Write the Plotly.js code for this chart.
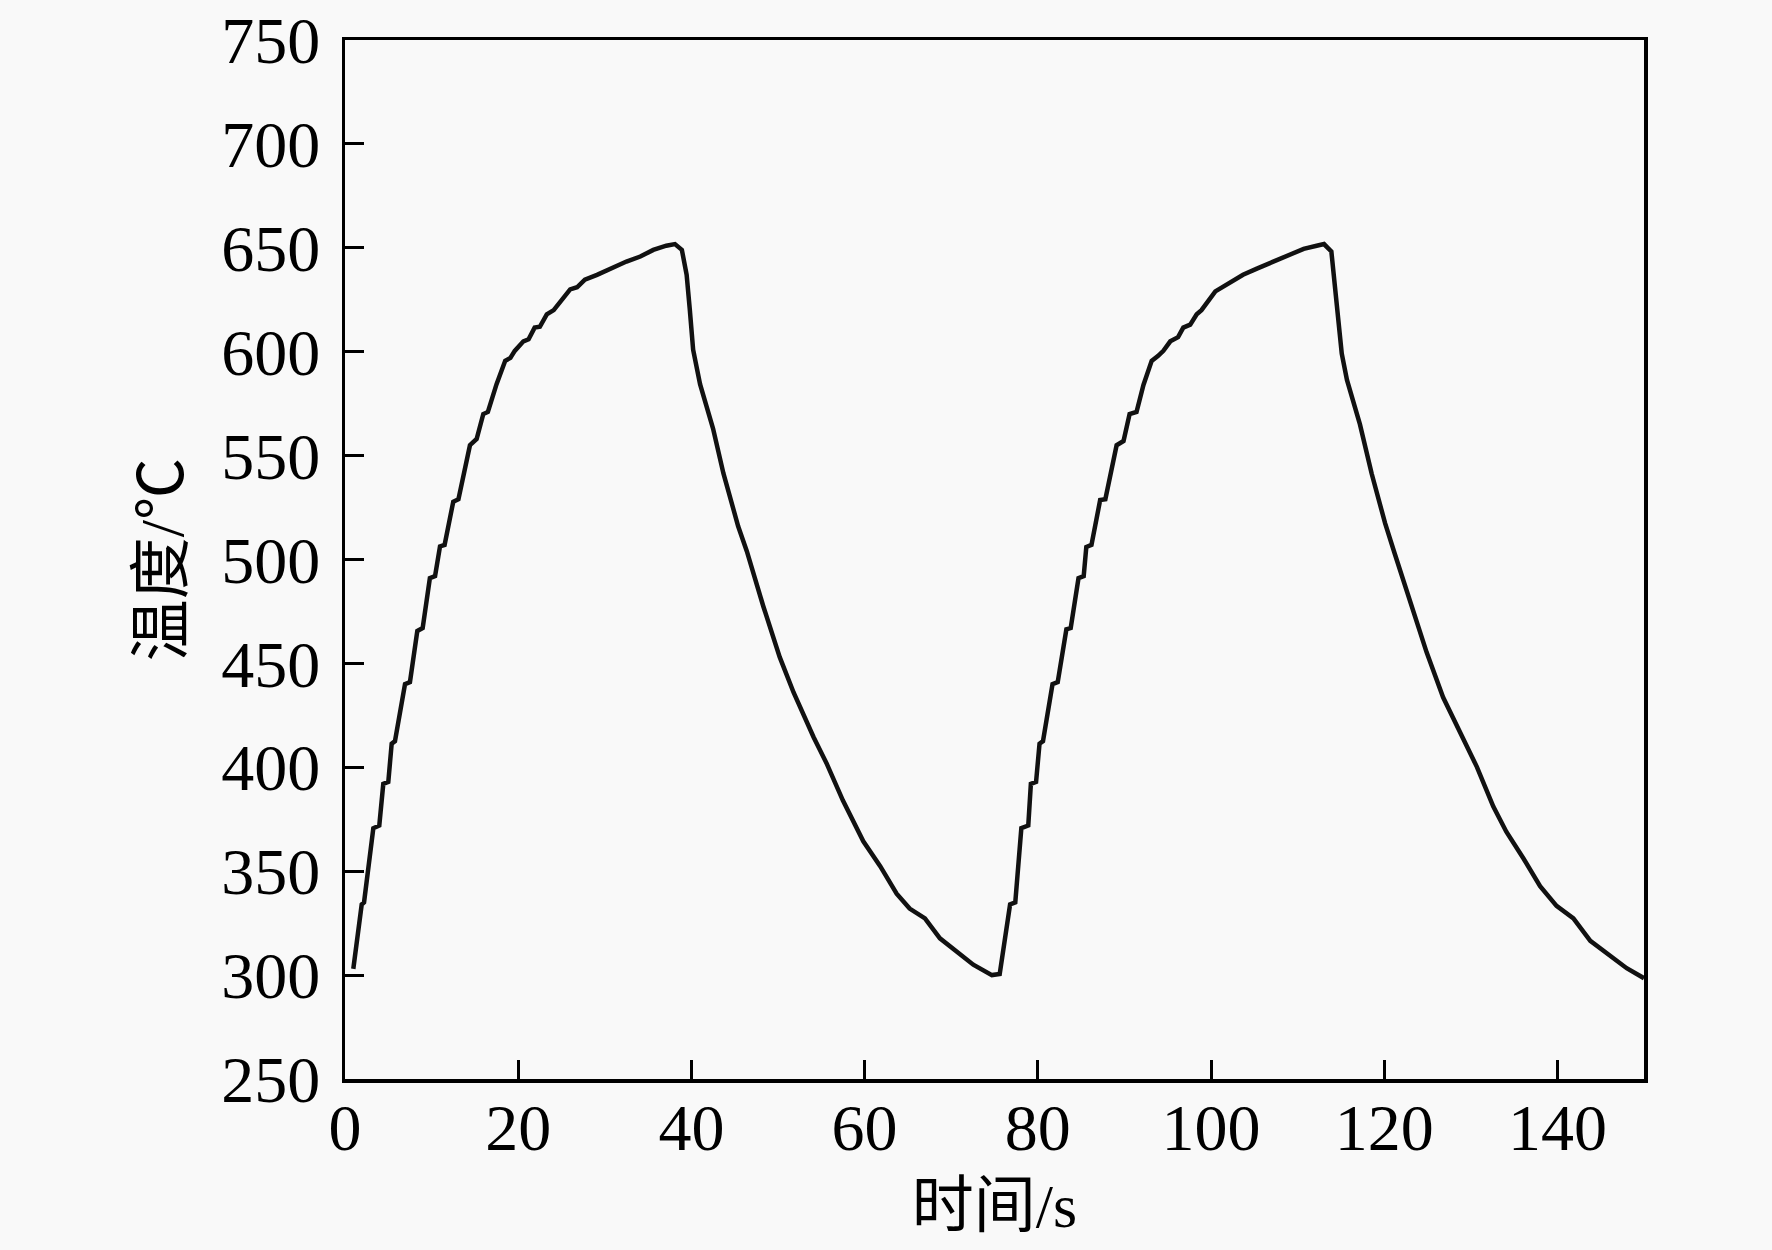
<!DOCTYPE html>
<html>
<head>
<meta charset="utf-8">
<script src="https://cdn.plot.ly/plotly-3.0.1.min.js"></script>
<style>
  html, body { margin: 0; padding: 0; background: #f9f9f9; }
  #chart { width: 1772px; height: 1250px; }
</style>
</head>
<body>
<div id="chart"></div>
<script>
// first heating / cooling cycle
var cycle1Time = [0.96, 1.93, 2.2, 3.27, 3.96, 4.42, 5.0, 5.39, 5.77, 6.93, 7.5, 8.35, 8.97, 9.8, 10.4,
    10.97, 11.5, 12.5, 13.1, 14.43, 15.2, 15.97, 16.5, 17.5, 18.5, 19.1, 19.6, 20.6, 21.2, 21.9, 22.5,
    23.3, 24.1, 26.0, 26.8, 27.7, 29.1, 30.6, 32.5, 34.1, 35.6, 37.1, 38.1, 38.9, 39.45, 39.8, 40.2,
    41.0, 42.5, 43.7, 45.4, 46.4, 48.3, 50.2, 51.8, 54.1, 55.6, 57.5, 59.85, 61.8, 63.7, 65.2, 66.97,
    68.7, 70.6, 72.55, 74.7, 75.6];
var cycle1Temp = [303, 334, 335, 370.7, 372, 392, 393, 411.4, 412.6, 440, 441, 465.6, 467, 491, 492,
    506.3, 507, 527.8, 529, 555, 558, 570, 571, 584.4, 595.6, 597, 600.4, 605, 606, 611.6, 612,
    618, 620, 630, 631, 634.7, 637, 640, 643.4, 645.8, 649, 651, 651.8, 649, 637, 621, 601,
    584.4, 563, 541.4, 516, 504, 477.5, 453, 436, 414.6, 402, 384, 364.4, 352.4, 339.2, 332, 327.3,
    317.7, 311.7, 305, 300, 300.5];

// second cycle
var cycle2Time = [76.8, 77.4, 78.1, 78.9, 79.2, 79.8, 80.2, 80.6, 81.7, 82.3, 83.3, 83.8, 84.7, 85.3,
    85.6, 86.2, 87.2, 87.8, 89.1, 89.9, 90.6, 91.4, 92.2, 93.15, 93.9, 94.5, 95.3, 96.2, 96.8, 97.6,
    98.35, 98.9, 100.5, 101.3, 102.6, 103.7, 105.3, 107.2, 108.9, 110.7, 112.2, 113.05, 113.9, 114.3,
    114.7, 115.1, 115.7, 117.2, 118.55, 120.1, 121.2, 123.0, 124.9, 126.8, 128.75, 130.7, 132.6, 134.1,
    136.1, 138.0, 139.9, 141.85, 143.8, 146.1, 148.0, 150];
var cycle2Temp = [334, 335, 370.7, 372, 392, 393, 411.4, 412.6, 440, 441, 466.4, 467, 491, 492,
    506, 507, 528.6, 529, 555, 557, 570, 571, 584, 595.6, 598, 600.4, 605, 607, 611.6, 613,
    618, 620, 629, 631, 634.7, 637, 640, 643.4, 646.6, 649.5, 651, 651.8, 648.2, 632.3,
    613, 599, 586.4, 565, 541.4, 517.5, 503, 479.2, 455.3, 433.7, 417, 400.2, 381.1, 369,
    356, 342.8, 333.3, 327.3, 316.5, 309.3, 303.3, 298.5];

var xTicks = [0, 20, 40, 60, 80, 100, 120, 140];
var yTicks = [250, 300, 350, 400, 450, 500, 550, 600, 650, 700, 750];

var serif = 'Liberation Serif, Times New Roman, Noto Sans CJK SC, serif';

var trace = {
    x: cycle1Time.concat(cycle2Time),
    y: cycle1Temp.concat(cycle2Temp),
    mode: 'lines',
    type: 'scatter',
    line: { color: '#111111', width: 4.5 },
    hoverinfo: 'skip'
};

var axisCommon = {
    showline: true,
    linecolor: '#000000',
    linewidth: 3.5,
    mirror: true,
    showgrid: false,
    zeroline: false,
    ticks: 'inside',
    ticklen: 19,
    tickwidth: 3,
    tickcolor: '#000000',
    ticklabeloverflow: 'allow',
    tickfont: { family: serif, size: 66, color: '#000000' }
};

var layout = {
    width: 1772,
    height: 1250,
    margin: { l: 345, r: 128, t: 40, b: 171 },
    paper_bgcolor: '#f9f9f9',
    plot_bgcolor: '#f9f9f9',
    showlegend: false,
    xaxis: Object.assign({}, axisCommon, {
        range: [0, 150],
        tickvals: xTicks,
        ticktext: xTicks.map(String),
        ticklabelstandoff: -12,
        title: { text: '时间/s', font: { family: serif, size: 62, color: '#000000' }, standoff: 22 }
    }),
    yaxis: Object.assign({}, axisCommon, {
        range: [250, 750],
        tickvals: yTicks,
        ticktext: yTicks.map(String),
        ticklabelstandoff: 8,
        title: { text: '温度/℃', font: { family: serif, size: 62, color: '#000000' }, standoff: 18 }
    })
};

Plotly.newPlot('chart', [trace], layout, { staticPlot: true, displayModeBar: false });
</script>
</body>
</html>
